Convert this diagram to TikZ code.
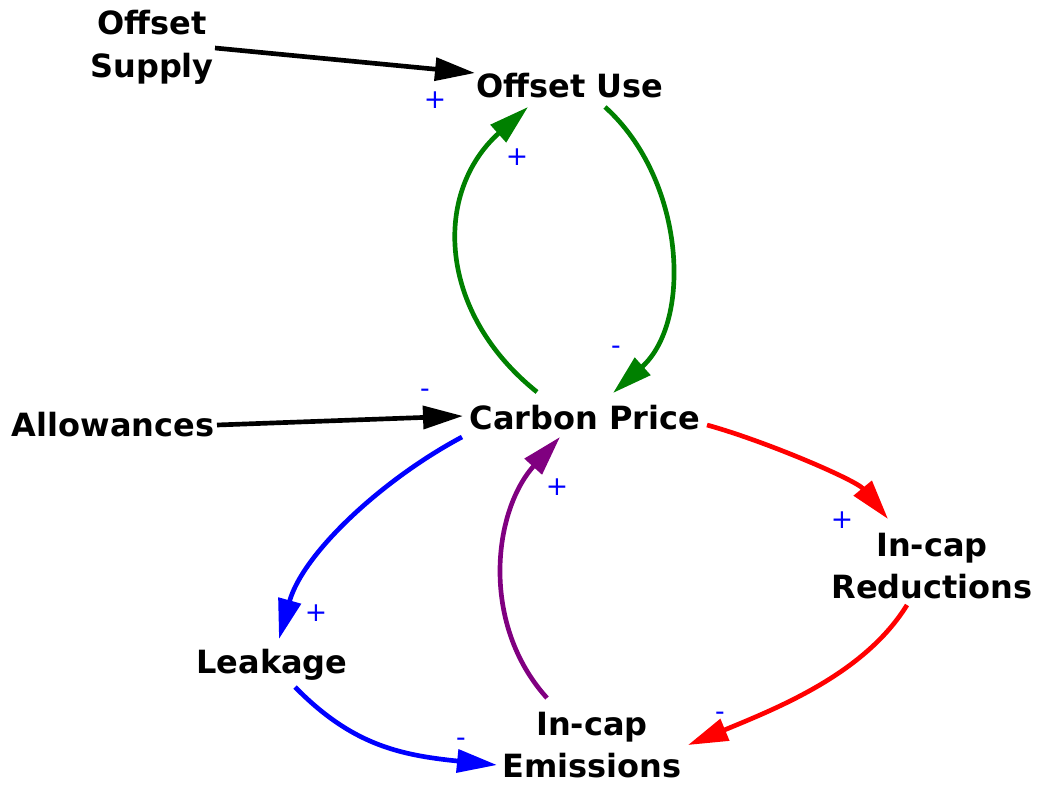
\documentclass[tikz,border=0pt]{standalone}
\usepackage{fontspec}
\setmainfont{DejaVu Sans}
\usetikzlibrary{arrows.meta,calc}
\definecolor{cgreen}{RGB}{0,128,0}
\definecolor{cblue}{RGB}{0,0,255}
\definecolor{cred}{RGB}{255,0,0}
\definecolor{cpurple}{RGB}{128,0,128}
\begin{document}
\begin{tikzpicture}[x=0.75pt,y=-0.75pt,
  var/.style={align=center,font=\fontsize{24}{32}\selectfont\bfseries,inner sep=0pt},
  link/.style={line width=3.5pt,-{Triangle[length=30pt,width=17pt]}},
  sign/.style={text=cblue,font=\fontsize{20}{20}\selectfont,inner sep=0pt}]
\useasboundingbox (0,0) rectangle (1038,785);
\node[var] (os) at (152,47) {Offset\\Supply};
\node[var] (ou) at (570,86) {Offset Use};
\node[var] (cp) at (585,418) {Carbon Price};
\node[var] (al) at (113,425) {Allowances};
\node[var] (ir) at (932,566) {In-cap\\Reductions};
\node[var] (lk) at (272,665) {Leakage};
\node[var] (ie) at (592,745) {In-cap\\Emissions};
% connectors
\draw[link,black] ($(os)+(63,1)$) -- ($(ou)+(-95,-13)$);
\draw[link,cgreen] ($(cp)+(-48,-26)$) .. controls +(-100,-80) and +(-95,85) .. ($(ou)+(-42,21)$);
\draw[link,cgreen] ($(ou)+(35,21)$) .. controls +(80,72) and +(80,-72) .. ($(cp)+(28,-25)$);
\draw[link,black] ($(al)+(104,0)$) -- ($(cp)+(-122,-2)$);
\draw[link,cblue] ($(cp)+(-123,19)$) .. controls +(-79,42) and +(24,-86) .. ($(lk)+(7,-26)$);
\draw[link,cblue] ($(lk)+(23,22)$) .. controls +(56,57) and +(-99,-10) .. ($(ie)+(-95,20)$);
\draw[link,cpurple] ($(ie)+(-45,-47)$) .. controls +(-67,-74) and +(-67,74) .. ($(cp)+(-25,19)$);
\draw[link,cred] ($(cp)+(122,7)$) .. controls +(58,16) and +(-32,-39) .. ($(ir)+(-44,-47)$);
\draw[link,cred] ($(ir)+(-25,39)$) .. controls +(-42,68) and +(92,-38) .. ($(ie)+(96,0)$);
% polarity signs
\node[sign] (s1) at (435,100) {+};
\node[sign] (s2) at (517,157) {+};
\node[sign] (s3) at (616,350) {-};
\node[sign] (s4) at (425,393) {-};
\node[sign] (s5) at (316,613) {+};
\node[sign] (s6) at (461,742) {-};
\node[sign] (s7) at (557,487) {+};
\node[sign] (s8) at (842,520) {+};
\node[sign] (s9) at (720,716) {-};
\end{tikzpicture}
\end{document}
